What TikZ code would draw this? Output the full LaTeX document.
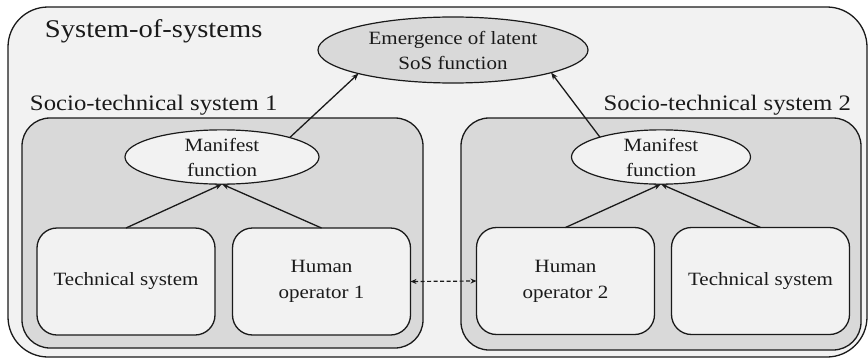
\documentclass[tikz,border=0pt]{standalone}
\usepackage{fontspec}
\setmainfont[FakeStretch=1.12]{Liberation Serif}
\usetikzlibrary{shapes.geometric,arrows.meta}
\definecolor{lightfill}{HTML}{F2F2F2}
\definecolor{midfill}{HTML}{D9D9D9}
\definecolor{inkcol}{HTML}{1A1A1A}
\begin{document}
\begin{tikzpicture}[x=1pt,y=-1pt,
  every node/.style={inner sep=0pt, outer sep=0pt, text=inkcol},
  outerbox/.style={draw=inkcol, line width=1.3pt, fill=lightfill, rounded corners=40pt},
  stbox/.style={draw=inkcol, line width=1.3pt, fill=midfill, rounded corners=28pt},
  compbox/.style={draw=inkcol, line width=1.3pt, fill=lightfill, rounded corners=20pt,
    minimum width=178pt, minimum height=107pt, align=center, font=\fontsize{18.75}{26}\selectfont},
  mfell/.style={ellipse, draw=inkcol, line width=1.2pt, fill=lightfill, align=center,
    font=\fontsize{18.75}{25}\selectfont},
  emell/.style={ellipse, draw=inkcol, line width=1.2pt, fill=midfill, align=center,
    font=\fontsize{18.75}{25}\selectfont, minimum width=270pt, minimum height=66pt},
  lbl/.style={font=\fontsize{22.1}{26}\selectfont},
  conn/.style={draw=inkcol, line width=1.3pt, -{Stealth[length=7pt,width=5.5pt]}},
  dconn/.style={draw=inkcol, line width=1.2pt, dashed, dash pattern=on 4pt off 2.5pt,
    {Stealth[length=6pt,width=5pt]}-{Stealth[length=6pt,width=5pt]}}
]
\useasboundingbox (0,0) rectangle (868,359);
\node[outerbox, minimum width=859pt, minimum height=350pt] (sos) at (437.5,182) {};
\node[anchor=base west, font=\fontsize{25.5}{30}\selectfont] (sostitle) at (45,37) {System-of-systems};

\node[stbox, minimum width=401pt, minimum height=230pt] (st1) at (222.5,233) {};
\node[stbox, minimum width=400pt, minimum height=232pt] (st2) at (661,234) {};
\node[lbl, anchor=base west] (st1lbl) at (30,110) {Socio-technical system 1};
\node[lbl, anchor=base east] (st2lbl) at (851,110) {Socio-technical system 2};

\node[emell] (em) at (453,50) {Emergence of latent\\SoS function};

\node[mfell, minimum width=194pt, minimum height=52pt] (m1) at (222,157) {Manifest\\function};
\node[mfell, minimum width=179pt, minimum height=50pt] (m2) at (661,157) {Manifest\\function};

\node[compbox] (t1) at (126,281.5) {Technical system};
\node[compbox] (h1) at (321.5,281.5) {Human\\operator 1};
\node[compbox] (h2) at (565.5,281) {Human\\operator 2};
\node[compbox] (t2) at (760.5,281) {Technical system};

\draw[conn] (t1.north) -- (m1.south);
\draw[conn] (h1.north) -- (m1.south);
\draw[conn] (h2.north) -- (m2.south);
\draw[conn] (t2.north) -- (m2.south);
\draw[conn] (m1.16) -- (em.194);
\draw[conn] (m2.162) -- (em.-13);
\draw[dconn] (h1.east) -- (h2.west);
\end{tikzpicture}
\end{document}
